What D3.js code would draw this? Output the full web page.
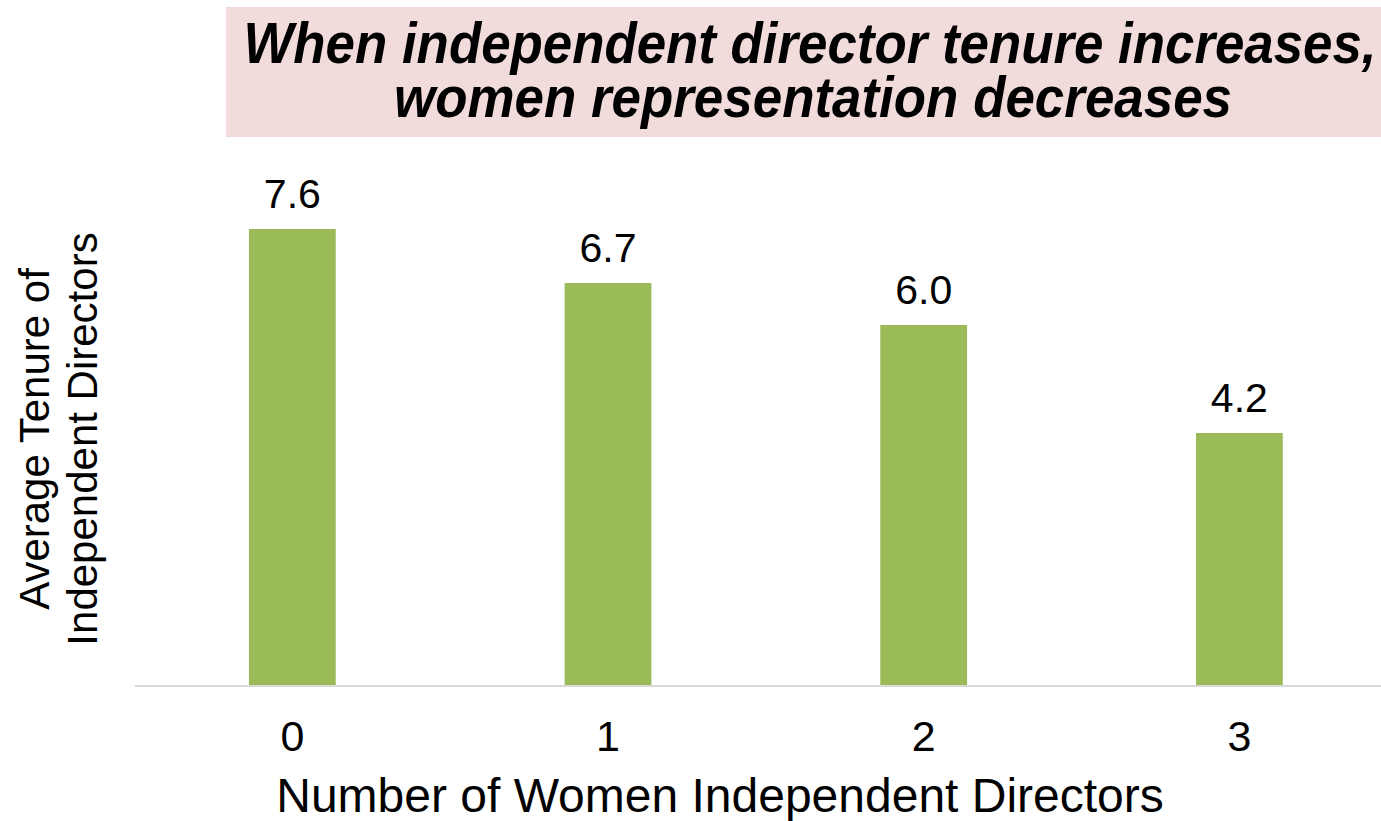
<!DOCTYPE html>
<html>
<head>
<meta charset="utf-8">
<script src="https://cdn.jsdelivr.net/npm/d3@7"></script>
<style>
	body { margin: 0; background: #fff; }
	text { font-family: "Liberation Sans", Arial, sans-serif; fill: #000; }
</style>
</head>
<body>
<div id="chart"></div>
<script>
//chart data
var categories = ["0", "1", "2", "3"],
	tenure = [7.6, 6.7, 6.0, 4.2],
	titleLines = ["When independent director tenure increases,", "women representation decreases"],
	yTitleLines = ["Average Tenure of", "Independent Directors"],
	xTitle = "Number of Women Independent Directors";

//frame
var width = 1381,
	height = 821,
	baseY = 685;

var svg = d3.select("#chart")
	.append("svg")
		.attr("width", width)
		.attr("height", height);

//scales
var x = d3.scaleBand()
	.domain(categories)
	.range([134.5, 1397.2])
	.paddingInner(0.725)
	.paddingOuter(0.3625);

var y = d3.scaleLinear()
	.domain([0, 8])
	.range([baseY, baseY - 480]);

//title box
svg.append("rect")
	.attr("x", 226)
	.attr("y", 7)
	.attr("width", width - 226)
	.attr("height", 130)
	.style("fill", "#F2DCDB");

var titleLen = [1133, 838];
svg.selectAll(".title")
	.data(titleLines)
	.enter()
	.append("text")
		.attr("class", "title")
		.attr("x", function(d, i) { return i == 0 ? 810 : 813; })
		.attr("y", function(d, i) { return 63 + i * 54; })
		.attr("text-anchor", "middle")
		.attr("textLength", function(d, i) { return titleLen[i]; })
		.attr("lengthAdjust", "spacingAndGlyphs")
		.style("font-size", "58px")
		.style("font-weight", "bold")
		.style("font-style", "italic")
		.text(function(d) { return d; });

//bars
svg.selectAll(".bar")
	.data(tenure)
	.enter()
	.append("rect")
		.attr("class", "bar")
		.attr("x", function(d, i) { return x(categories[i]); })
		.attr("y", function(d) { return y(d); })
		.attr("width", x.bandwidth())
		.attr("height", function(d) { return baseY - y(d); })
		.style("fill", "#9BBB59");

//value labels
svg.selectAll(".val")
	.data(tenure)
	.enter()
	.append("text")
		.attr("class", "val")
		.attr("x", function(d, i) { return x(categories[i]) + x.bandwidth() / 2; })
		.attr("y", function(d) { return y(d) - 21; })
		.attr("text-anchor", "middle")
		.style("font-size", "41px")
		.text(function(d) { return d.toFixed(1); });

//x axis
var xAxis = svg.append("g")
	.attr("transform", "translate(0," + (baseY + 1) + ")")
	.call(d3.axisBottom(x).tickSize(0).tickPadding(0));
xAxis.select(".domain").remove();
xAxis.append("line")
	.attr("x1", 135)
	.attr("x2", width)
	.style("stroke", "#D9D9D9")
	.style("stroke-width", 2);
xAxis.selectAll(".tick text")
	.attr("dy", null)
	.attr("y", 65)
	.style("font-size", "43px")
	.style("font-family", "'Liberation Sans', Arial, sans-serif")
	.style("fill", "#000");

//axis titles
svg.append("text")
	.attr("x", 720)
	.attr("y", 812)
	.attr("text-anchor", "middle")
	.style("font-size", "48px")
	.text(xTitle);

svg.selectAll(".ytitle")
	.data(yTitleLines)
	.enter()
	.append("text")
		.attr("class", "ytitle")
		.attr("transform", "rotate(-90)")
		.attr("x", -439)
		.attr("y", function(d, i) { return 49 + i * 48; })
		.attr("text-anchor", "middle")
		.style("font-size", "42px")
		.text(function(d) { return d; });
</script>
</body>
</html>
